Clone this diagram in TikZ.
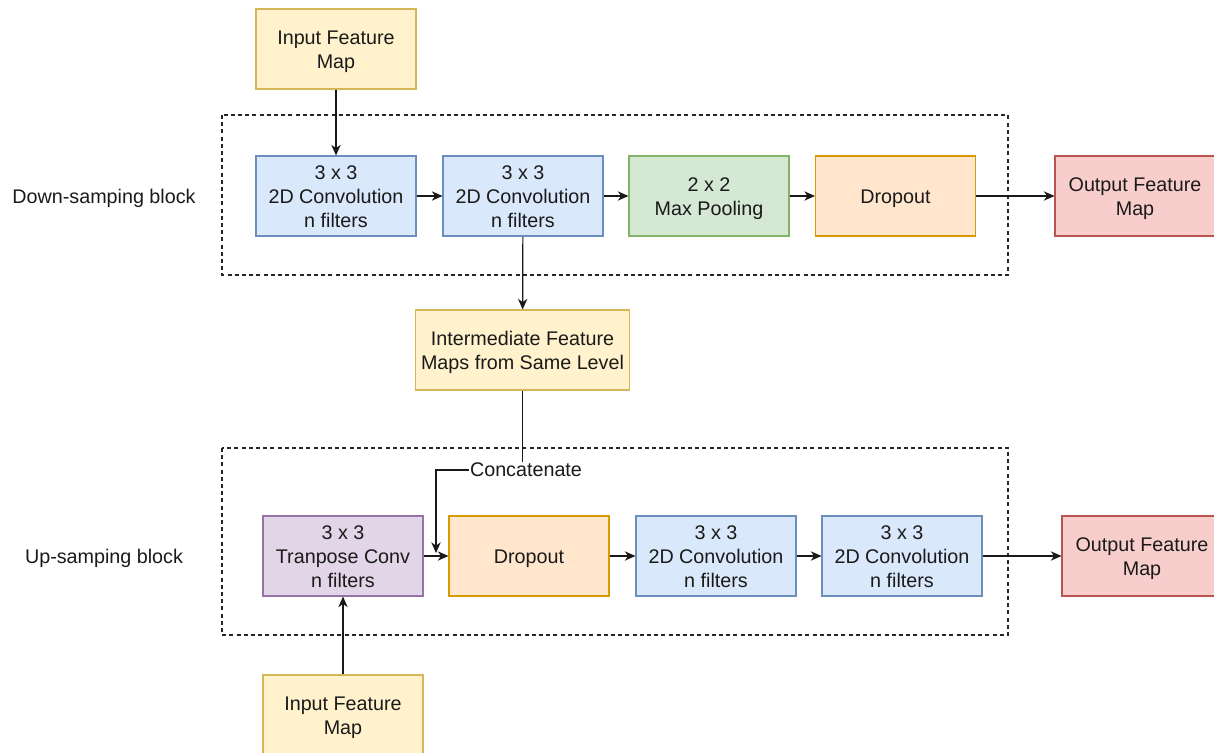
\documentclass[tikz,border=0pt]{standalone}
\usepackage{fontspec}
\setmainfont{Liberation Sans}
\usetikzlibrary{arrows.meta}
\definecolor{yfill}{HTML}{FFF2CC}\definecolor{ydraw}{HTML}{D6B656}
\definecolor{bfill}{HTML}{DAE8FC}\definecolor{bdraw}{HTML}{6C8EBF}
\definecolor{gfill}{HTML}{D5E8D4}\definecolor{gdraw}{HTML}{82B366}
\definecolor{ofill}{HTML}{FFE6CC}\definecolor{odraw}{HTML}{D79B00}
\definecolor{rfill}{HTML}{F8CECC}\definecolor{rdraw}{HTML}{B85450}
\definecolor{pfill}{HTML}{E1D5E7}\definecolor{pdraw}{HTML}{9673A6}
\definecolor{txt}{HTML}{1A1A1A}
\begin{document}
\begin{tikzpicture}[x=0.75pt,y=-0.75pt,
  box/.style={rectangle,minimum width=120pt,minimum height=60pt,inner sep=0pt,line width=0.8pt},
  tl/.style={align=center,font=\fontsize{14.8}{18}\selectfont,text=txt,inner sep=0pt,yshift=-2.25pt},
  tl3/.style={tl,yshift=1.5pt},
  yel/.style={box,fill=yfill,draw=ydraw},
  blu/.style={box,fill=bfill,draw=bdraw},
  grn/.style={box,fill=gfill,draw=gdraw},
  org/.style={box,fill=ofill,draw=odraw},
  red/.style={box,fill=rfill,draw=rdraw},
  pur/.style={box,fill=pfill,draw=pdraw},
  lbl/.style={font=\fontsize{14.8}{18}\selectfont,text=txt,inner sep=1pt},
  conn/.style={line width=0.9pt,draw=black!90,-{Stealth[length=8pt,width=7pt,inset=2.5pt]}},
  blockbox/.style={dash pattern=on 3pt off 2.4pt,line width=0.8pt,draw=black!85}]
\useasboundingbox (0,0) rectangle (1214,753);
\clip (0,0) rectangle (1214,753);
\fill[white] (0,0) rectangle (1214,753);
% dashed blocks
\draw[blockbox] (222,115) rectangle (1008,275);
\draw[blockbox] (222,448) rectangle (1008,635);
% labels
\node[lbl] (dlab) at (104,198) {Down-samping block};
\node[lbl] (ulab) at (104,558) {Up-samping block};
% top row
\node[yel,label={[tl]center:{Input Feature\\Map}}] (in1) at (336,49) {};
\node[blu,label={[tl3]center:{3 x 3\\2D Convolution\\n filters}}] (c1) at (336,196) {};
\node[blu,label={[tl3]center:{3 x 3\\2D Convolution\\n filters}}] (c2) at (523,196) {};
\node[grn,label={[tl]center:{2 x 2\\Max Pooling}}] (mp) at (709,196) {};
\node[org,label={[tl]center:{Dropout}}] (d1) at (895.5,196) {};
\node[red,label={[tl]center:{Output Feature\\Map}}] (o1) at (1135,196) {};
\node[yel,minimum width=160pt,label={[tl,yshift=0.75pt]center:{Intermediate Feature\\Maps from Same Level}}] (inter) at (522.5,350) {};
% bottom row
\node[pur,label={[tl3]center:{3 x 3\\Tranpose Conv\\n filters}}] (tc) at (343,556) {};
\node[org,label={[tl]center:{Dropout}}] (d2) at (529,556) {};
\node[blu,label={[tl3]center:{3 x 3\\2D Convolution\\n filters}}] (c3) at (716,556) {};
\node[blu,label={[tl3]center:{3 x 3\\2D Convolution\\n filters}}] (c4) at (902,556) {};
\node[red,label={[tl]center:{Output Feature\\Map}}] (o2) at (1142,556) {};
\node[yel,label={[tl]center:{Input Feature\\Map}}] (in2) at (343,715) {};
% connectors
\draw[conn] (in1) -- (c1);
\draw[conn] (c1) -- (c2);
\draw[conn] (c2) -- (mp);
\draw[conn] (mp) -- (d1);
\draw[conn] (d1) -- (o1);
\draw[conn] (c2) -- (inter);
\draw[conn] (in2) -- (tc);
\draw[conn] (tc) -- (d2);
\draw[conn] (d2) -- (c3);
\draw[conn] (c3) -- (c4);
\draw[conn] (c4) -- (o2);
\coordinate (cend) at (436,553);
\draw[conn] (inter.south) |- (470,470) -| (cend);
\node[lbl,fill=white] (concat) at (526,470) {Concatenate};
\end{tikzpicture}
\end{document}
